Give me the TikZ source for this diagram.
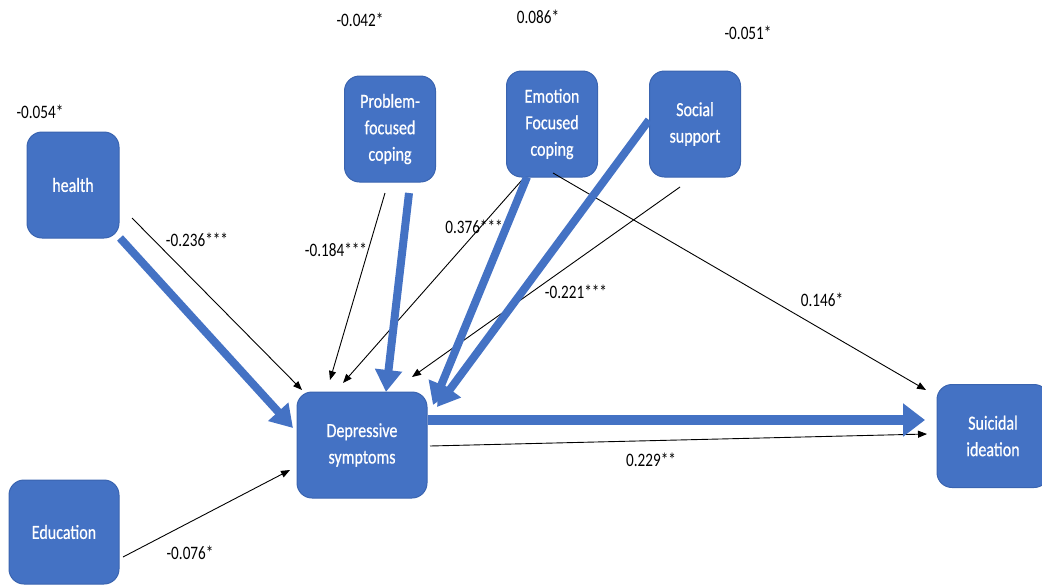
\documentclass[tikz,border=0pt]{standalone}
\usepackage{fontspec}
\setmainfont{Carlito}[FakeStretch=0.8]
\newfontfamily\boxfont{Carlito}[FakeStretch=0.8,FakeBold=0.6]
\usetikzlibrary{arrows.meta,calc}
\definecolor{boxblue}{HTML}{4472C4}
\definecolor{boxedge}{HTML}{3A64B0}
\begin{document}
\begin{tikzpicture}[x=1pt,y=-1pt,
  var/.style={rectangle,rounded corners=15pt,fill=boxblue,draw=boxedge,line width=1pt,
    text=white,align=center,font=\boxfont\fontsize{20}{26.5}\selectfont,inner sep=0pt},
  coef/.style={font=\fontsize{19}{22}\selectfont,text=black,inner sep=1pt},
  thin/.style={draw=black,line width=0.9pt,-{Triangle[length=9pt,width=7pt]}},
  thick/.style={draw=boxblue,line width=8pt,-{Triangle[length=22pt,width=26pt]}},
  thicker/.style={draw=boxblue,line width=10pt,-{Triangle[length=22pt,width=32pt]}}]
\useasboundingbox (0,0) rectangle (1042,584);
\clip (0,0) rectangle (1042,584);

% variables
\node[var,minimum width=92pt,minimum height=106pt] (h) at (73,185) {health};
\node[var,minimum width=110pt,minimum height=104pt] (edu) at (64,532) {Education};
\node[var,minimum width=91pt,minimum height=106pt] (pfc) at (390,129) {Problem-\\focused\\coping};
\node[var,minimum width=91pt,minimum height=106pt] (efc) at (552,124) {Emotion\\Focused\\coping};
\node[var,minimum width=91pt,minimum height=106pt] (ss) at (695,124) {Social\\support};
\node[var,minimum width=130pt,minimum height=106pt] (dep) at (362,445) {Depressive\\symptoms};
\node[var,minimum width=112pt,minimum height=103pt] (si) at (993,436) {Suicidal\\ideation};

% path coefficients
\node[coef] (c054) at (40,112) {-0.054*};
\node[coef] (c042) at (360,20) {-0.042*};
\node[coef] (c086) at (538,17) {0.086*};
\node[coef] (c051) at (748,33) {-0.051*};
\node[coef] (c236) at (197,240) {-0.236***};
\node[coef] (c184) at (336,250) {-0.184***};
\node[coef] (c376) at (474,227) {0.376***};
\node[coef] (c221) at (576,292) {-0.221***};
\node[coef] (c146) at (822,300) {0.146*};
\node[coef] (c229) at (651,460) {0.229**};
\node[coef] (c076) at (190,553) {-0.076*};

% direct paths
\draw[thin] ($(h.center)+(59,33)$) -- ($(dep.center)+(-60,-55)$);
\draw[thin] ($(pfc.center)+(-5,64)$) -- ($(dep.center)+(-32,-65)$);
\draw[thin] ($(efc.center)+(-30,56)$) -- ($(dep.center)+(-19,-62)$);
\draw[thin] ($(ss.center)+(-15,63)$) -- ($(dep.center)+(50,-68)$);
\draw[thin] ($(efc.center)+(1,49)$) -- ($(si.center)+(-67,-46)$);
\draw[thin] ($(dep.center)+(68,1)$) -- ($(si.center)+(-66,-2)$);
\draw[thin] ($(edu.center)+(59,25)$) -- ($(dep.center)+(-72,25)$);

% indirect paths through depressive symptoms
\draw[thick] ($(h.center)+(47,53)$) -- ($(dep.center)+(-69,-17)$);
\draw[thick] ($(pfc.center)+(19,64)$) -- ($(dep.center)+(24,-53)$);
\draw[thick] ($(efc.center)+(-25,53)$) -- ($(dep.center)+(71,-40)$);
\draw[thick] ($(ss.center)+(-46,-4)$) -- ($(dep.center)+(75,-38)$);
\draw[thicker] ($(dep.center)+(66,-25)$) -- ($(si.center)+(-68,-16)$);
\end{tikzpicture}
\end{document}
